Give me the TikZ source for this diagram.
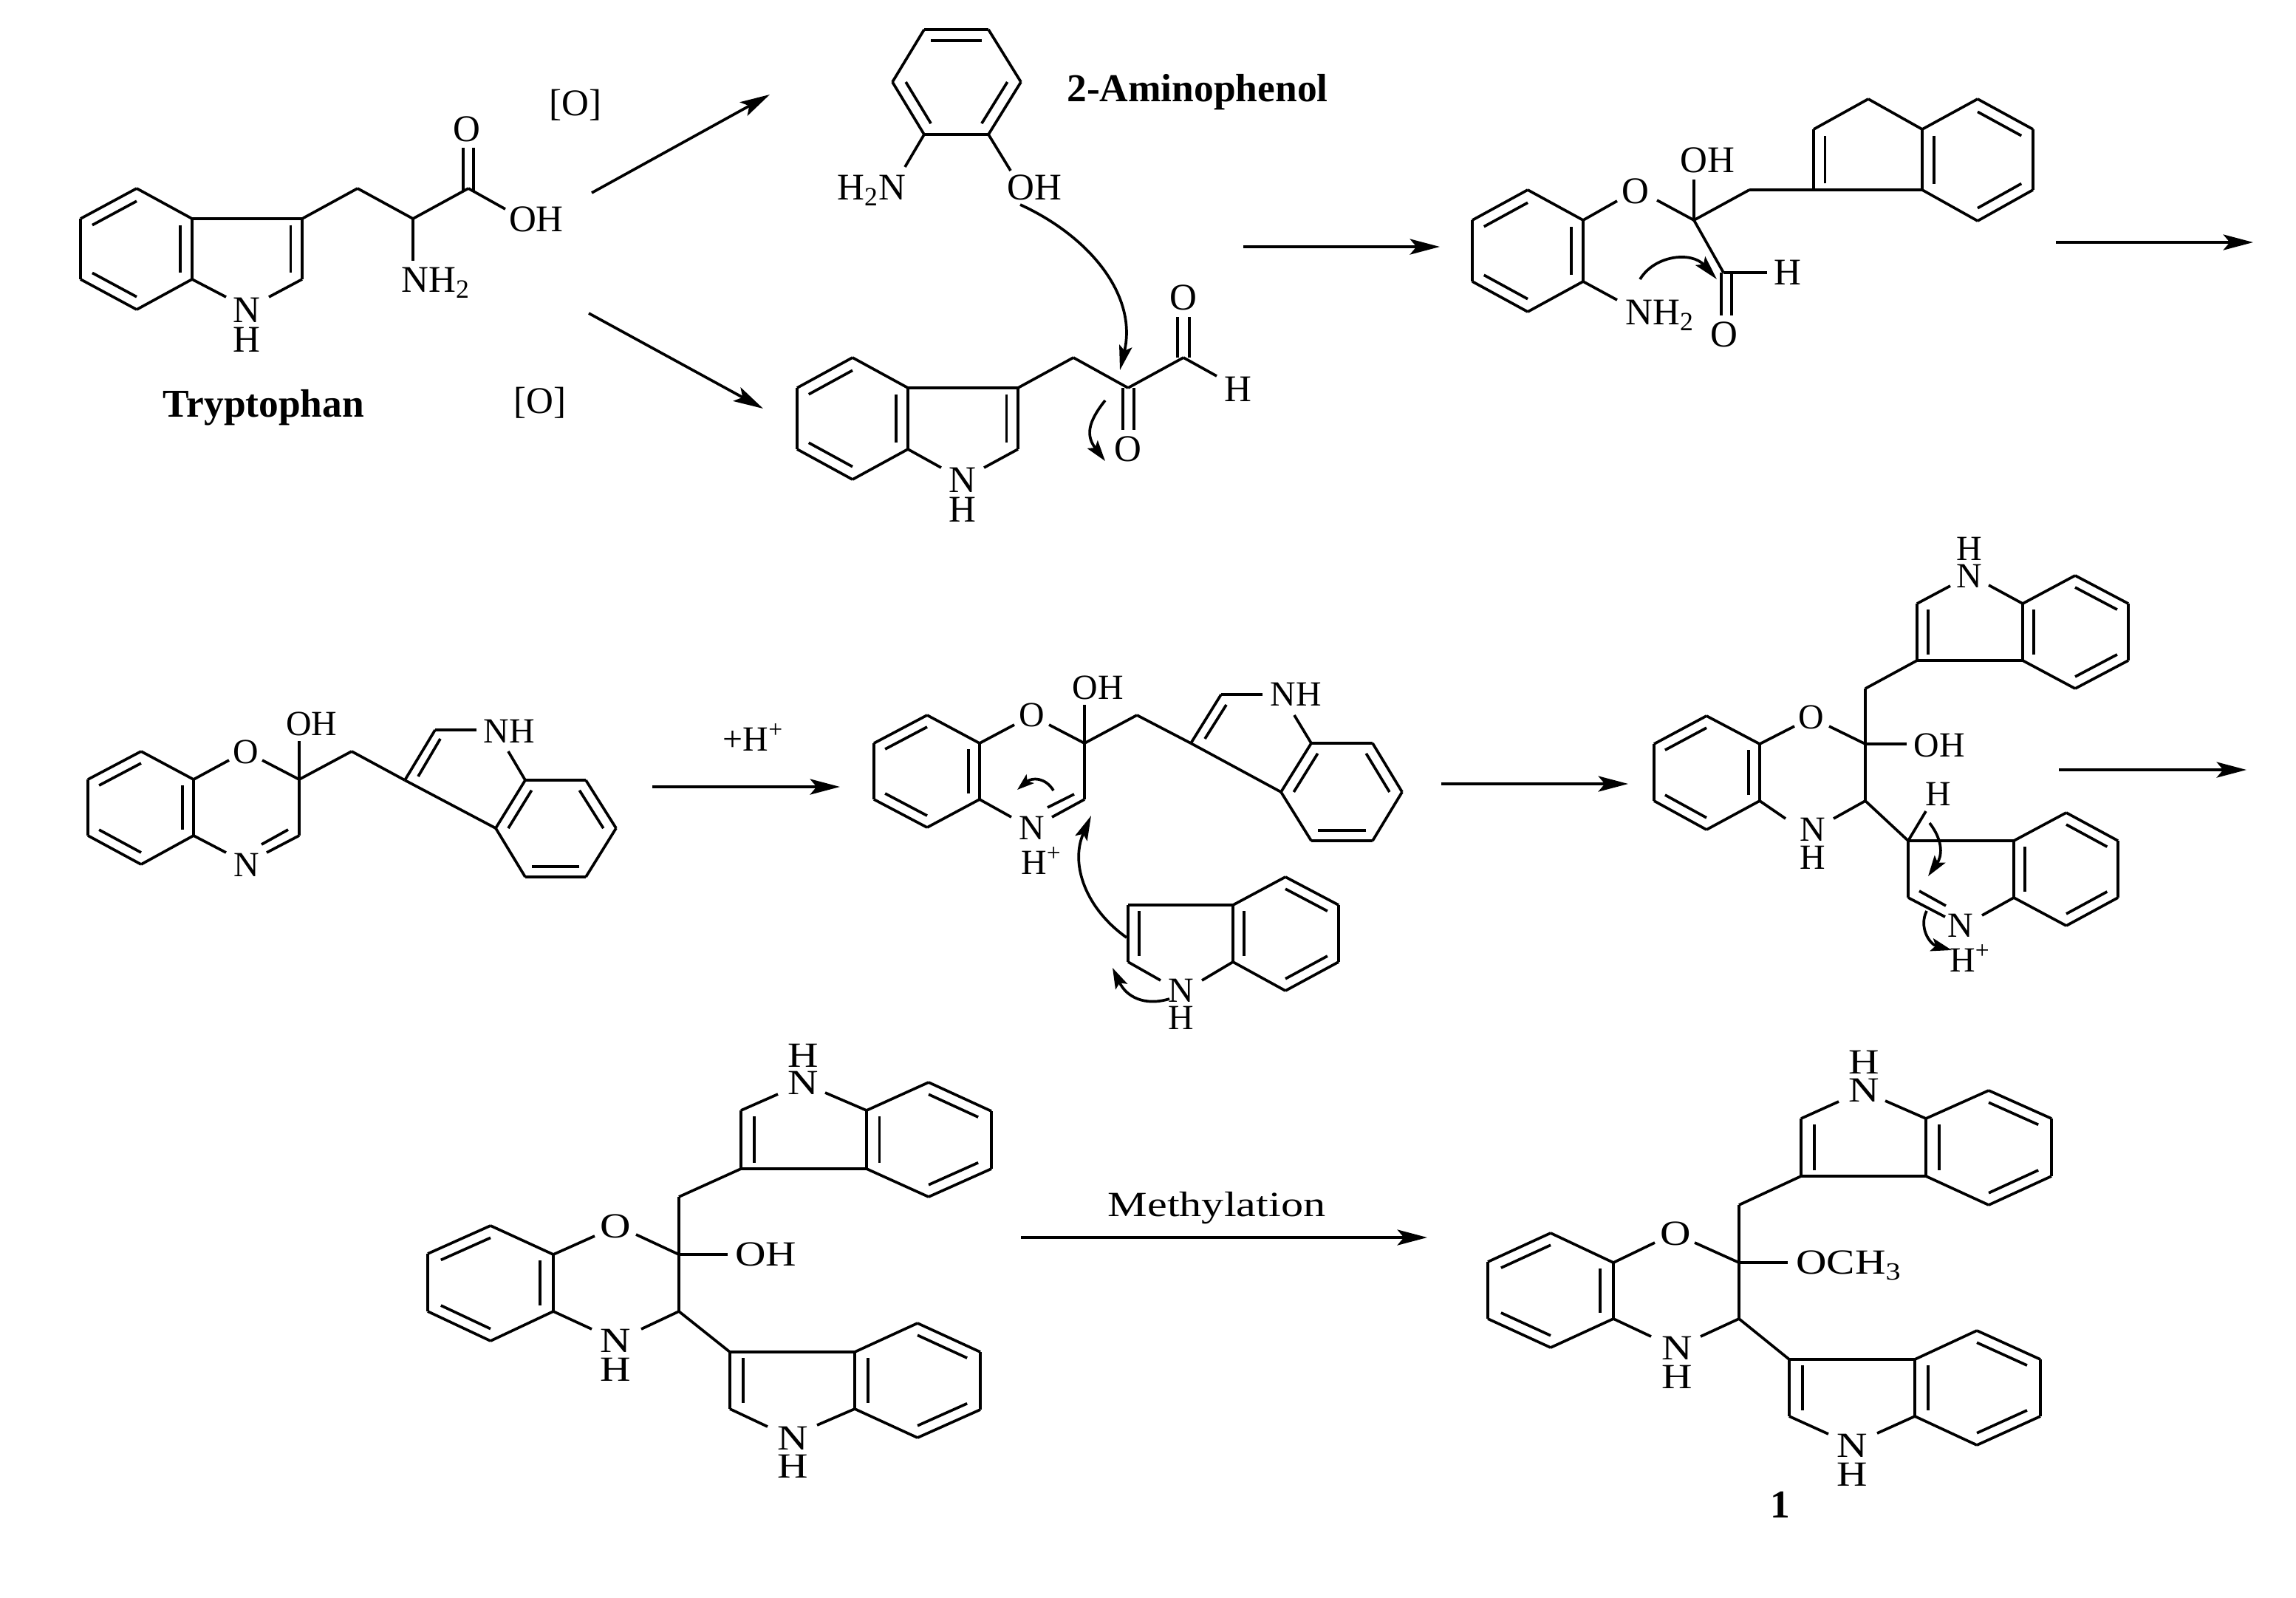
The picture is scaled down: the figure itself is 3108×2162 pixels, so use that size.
\documentclass[tikz,border=0pt]{standalone}
\usepackage{fontspec}
\setmainfont{Liberation Serif}
\usetikzlibrary{calc,arrows.meta}
\tikzset{
  bd/.style={line width=1.05pt,line join=miter,line cap=butt},
  lab/.style={inner sep=0pt,text height=9.6pt,text depth=0pt,font=\fontsize{14.5}{16}\selectfont},
  labb/.style={inner sep=0pt,text height=9pt,text depth=0pt,font=\fontsize{13.6}{15}\selectfont},
  bold lab/.style={inner sep=0pt,text height=10pt,text depth=0pt,font=\fontsize{15.2}{17}\selectfont\bfseries},
  rxn/.style={line width=1.05pt,-{Stealth[length=11.5pt,width=6pt,inset=2.5pt]}},
  curly/.style={line width=1.05pt,-{Stealth[length=9.5pt,width=5pt,inset=1.8pt]}},
  curlys/.style={line width=1.05pt,-{Stealth[length=8pt,width=5pt,inset=1.6pt]}},
  curlyt/.style={line width=1.05pt,-{Stealth[length=6.5pt,width=4.4pt,inset=1.4pt]}}
}
\newcommand{\pts}[1]{\foreach \n/\x/\y in {#1}{\coordinate (\n) at (\x,\y);}}
\newcommand{\bnd}[1]{\foreach \p/\q in {#1}{\draw[bd] (\p)--(\q);}}
\newcommand{\midpt}[3]{\coordinate (#1) at ($(#2)!.5!(#3)$);}
\newcommand{\dbl}[3]{\draw[bd] ($(#1)!.21!(#3)$)--($(#2)!.21!(#3)$);}
\newcommand{\wide}[1]{\scalebox{1.2}[1]{#1}}
\begin{document}
\begin{tikzpicture}[x=0.01cm,y=-0.01cm]
\useasboundingbox (0,0) rectangle (3108,2162);
% ---------- Tryptophan
\pts{t1/185/255,t2/109/296,t3/109/378,t4/185/419,t5/260/378,t6/260/296,t7/409/296,t8/409/378,tn1/306/402,tn2/364/402,t9/484/255,t10/559/296,t11/634/255,tnh/559/353,toh/684/283,tx1/627/258,ty1/627/200,tx2/641/258,ty2/641/200}
\bnd{t1/t2,t2/t3,t3/t4,t4/t5,t5/t6,t6/t1,t6/t7,t7/t8,t8/tn2,t5/tn1,t7/t9,t9/t10,t10/t11,t10/tnh,t11/toh,tx1/ty1,tx2/ty2}
\midpt{tc}{t1}{t4}\midpt{tp}{t7}{t5}
\dbl{t1}{t2}{tc}\dbl{t3}{t4}{tc}\dbl{t5}{t6}{tc}\dbl{t7}{t8}{tp}
\node[lab] (tN) at (334,420) {N};
\node[lab] (tH) at (334,460) {H};
\node[lab] (tNH2) at (590,379) {NH\textsubscript{2}};
\node[lab] (tO) at (632,175) {O};
\node[lab] (tOH) at (726,297) {OH};
\node[bold lab] (tname) at (357,547) {Tryptophan};
\node[lab] (ox1) at (779,140) {[O]};
\node[lab] (ox2) at (731,543) {[O]};
% ---------- arrows row 1
\pts{a1s/801/261,a1e/1042/128,a2s/797/424,a2e/1033/553,a3s/1683/334,a3e/1949/334,a4s/2783/328,a4e/3050/328}
\draw[rxn] (a1s)--(a1e);
\draw[rxn] (a2s)--(a2e);
\draw[rxn] (a3s)--(a3e);
\draw[rxn] (a4s)--(a4e);
% ---------- 2-Aminophenol
\pts{p1/1251/40,p2/1338/40,p3/1382/111,p4/1338/182,p5/1251/182,p6/1208/111,pn/1225/226,po/1368/231}
\bnd{p1/p2,p2/p3,p3/p4,p4/p5,p5/p6,p6/p1,p5/pn,p4/po}
\midpt{pc}{p1}{p4}
\dbl{p1}{p2}{pc}\dbl{p3}{p4}{pc}\dbl{p5}{p6}{pc}
\node[lab] (pNH2) at (1180,254) {H\textsubscript{2}N};
\node[lab] (pOH) at (1400,254) {OH};
\node[bold lab] (pname) at (1621,120) {2-Aminophenol};
% ---------- keto aldehyde
\pts{k1/1154/484,k2/1079/525,k3/1079/608,k4/1154/649,k5/1229/608,k6/1229/525,k7/1378/525,k8/1378/608,kn1/1274/633,kn2/1332/633,k9/1453/484,k10/1527/525,k11/1602/484,kh/1647/509,kxa/1520/525,kya/1520/582,kxb/1535/525,kyb/1535/582,kxc/1594/484,kyc/1594/429,kxd/1610/484,kyd/1610/429}
\bnd{k1/k2,k2/k3,k3/k4,k4/k5,k5/k6,k6/k1,k6/k7,k7/k8,k8/kn2,k5/kn1,k7/k9,k9/k10,k10/k11,k11/kh,kxa/kya,kxb/kyb,kxc/kyc,kxd/kyd}
\midpt{kc}{k1}{k4}\midpt{kp}{k7}{k5}
\dbl{k1}{k2}{kc}\dbl{k3}{k4}{kc}\dbl{k5}{k6}{kc}\dbl{k7}{k8}{kp}
\node[lab] (kN) at (1303,650) {N};
\node[lab] (kH) at (1303,690) {H};
\node[lab] (kO1) at (1527,608) {O};
\node[lab] (kO2) at (1602,403) {O};
\node[lab] (kH2) at (1676,527) {H};
\pts{ca1/1381/277,ca2/1516/501,cb1/1496/542,cb2/1496/624}
\draw[curly] (ca1) .. controls (1475,320) and (1540,400) .. (ca2);
\draw[curlys] (cb1) .. controls (1472,572) and (1470,590) .. (cb2);
% ---------- ether aldehyde
\pts{e1/2068/257,e2/1993/298,e3/1993/381,e4/2068/422,e5/2143/381,e6/2143/298,eo1/2189/272,eo2/2243/271,e7/2293/298,eoh/2293/243,e8/2368/257,e9/2455/257,e10/2455/175,e11/2529/134,e12/2602/175,e13/2602/257,e14/2677/134,e15/2752/175,e16/2752/257,e17/2677/299,en/2189/406,e18/2333/369,eh/2392/369,exa/2330/369,eya/2330/427,exb/2344/369,eyb/2344/427,efc/2529/216}
\bnd{e1/e2,e2/e3,e3/e4,e4/e5,e5/e6,e6/e1,e6/eo1,eo2/e7,e7/eoh,e7/e8,e8/e9,e9/e10,e10/e11,e11/e12,e12/e13,e13/e9,e12/e14,e14/e15,e15/e16,e16/e17,e17/e13,e5/en,e7/e18,e18/eh,exa/eya,exb/eyb}
\midpt{ec}{e1}{e4}\midpt{eb}{e14}{e17}
\dbl{e1}{e2}{ec}\dbl{e3}{e4}{ec}\dbl{e5}{e6}{ec}
\dbl{e9}{e10}{efc}\dbl{e12}{e13}{eb}\dbl{e14}{e15}{eb}\dbl{e16}{e17}{eb}
\node[lab] (eO) at (2214,259) {O};
\node[lab] (eOH) at (2311,217) {OH};
\node[lab] (eH) at (2420,369) {H};
\node[lab] (eO2) at (2334,453) {O};
\node[lab] (eNH2) at (2247,423) {NH\textsubscript{2}};
\pts{cc1/2220/378,cc2/2324/378}
\draw[curly] (cc1) .. controls (2240,345) and (2290,340) .. (cc2);
% ---------- benzoxazine (row 2 left)
\pts{b1/191/1017,b2/119/1055,b3/119/1131,b4/191/1170,b5/262/1131,b6/262/1055,bo1/310/1029,bo2/355/1029,b7/405/1055,boh/405/1003,b8/476/1017,b9/548/1056,b10/589/988,bnb/645/988,bnc/688/1017,b11/711/1056,b12/671/1121,b13/793/1056,b14/834/1121,b15/793/1187,b16/711/1187,b17/405/1131,bn1/306/1154,bn2/361/1154,bi1/390/1123,bi2/354/1143,bi3/596/1000,bi4/566/1051}
\bnd{b1/b2,b2/b3,b3/b4,b4/b5,b5/b6,b6/b1,b6/bo1,bo2/b7,b7/boh,b7/b8,b8/b9,b9/b10,b10/bnb,bnc/b11,b11/b12,b12/b9,b11/b13,b13/b14,b14/b15,b15/b16,b16/b12,b7/b17,b17/bn2,b5/bn1,bi1/bi2,bi3/bi4}
\midpt{bc}{b1}{b4}\midpt{bd2}{b13}{b16}
\dbl{b1}{b2}{bc}\dbl{b3}{b4}{bc}\dbl{b5}{b6}{bc}
\dbl{b11}{b12}{bd2}\dbl{b13}{b14}{bd2}\dbl{b15}{b16}{bd2}
\node[labb] (bO) at (333,1018) {O};
\node[labb] (bOH) at (422,980) {OH};
\node[labb] (bNH) at (689,990) {NH};
\node[labb] (bN) at (334,1171) {N};
\node[labb] (hp) at (1020,1001) {+H\textsuperscript{+}};
\pts{a5s/883/1065,a5e/1137/1065,a6s/1951/1061,a6e/2204/1061,a7s/2787/1042,a7e/3041/1042}
\draw[rxn] (a5s)--(a5e);
\draw[rxn] (a6s)--(a6e);
\draw[rxn] (a7s)--(a7e);
% ---------- cation (row 2 middle)
\pts{c1/1255/968,c2/1183/1006,c3/1183/1082,c4/1255/1120,c5/1326/1082,c6/1326/1006,co1/1373/981,co2/1420/981,c7/1468/1006,coh/1468/954,c8/1539/968,c9/1612/1006,c10/1653/940,cnb/1709/940,cnc/1752/968,c11/1775/1006,c12/1734/1072,c13/1858/1006,c14/1898/1072,c15/1858/1138,c16/1775/1138,c17/1468/1082,cn1/1369/1106,cn2/1424/1106,ci1/1454/1075,ci2/1418/1093,ci3/1660/954,ci4/1631/1000}
\bnd{c1/c2,c2/c3,c3/c4,c4/c5,c5/c6,c6/c1,c6/co1,co2/c7,c7/coh,c7/c8,c8/c9,c9/c10,c10/cnb,cnc/c11,c11/c12,c12/c9,c11/c13,c13/c14,c14/c15,c15/c16,c16/c12,c7/c17,c17/cn2,c5/cn1,ci1/ci2,ci3/ci4}
\midpt{cc}{c1}{c4}\midpt{cd}{c13}{c16}
\dbl{c1}{c2}{cc}\dbl{c3}{c4}{cc}\dbl{c5}{c6}{cc}
\dbl{c11}{c12}{cd}\dbl{c13}{c14}{cd}\dbl{c15}{c16}{cd}
\node[labb] (cO) at (1397,968) {O};
\node[labb] (cOH) at (1486,931) {OH};
\node[labb] (cNH) at (1754,940) {NH};
\node[labb] (cN) at (1397,1121) {N};
\node[labb] (cHp) at (1410,1168) {H\textsuperscript{+}};
\pts{cd1/1426/1070,cd2/1377/1069,ce1/1525/1269,ce2/1477/1104,cf1/1583/1352,cf2/1506/1310}
\draw[curlyt] (cd1) .. controls (1415,1052) and (1397,1052) .. (cd2);
\draw[curly] (ce1) .. controls (1470,1230) and (1448,1170) .. (ce2);
\draw[curlys] (cf1) .. controls (1550,1362) and (1525,1350) .. (cf2);
% ---------- free indole
\pts{i1/1527/1225,i2/1527/1302,in1/1571/1327,in2/1627/1327,i3/1669/1302,i4/1669/1225,i5/1740/1187,i6/1812/1225,i7/1812/1302,i8/1740/1341}
\bnd{i1/i2,i2/in1,in2/i3,i3/i4,i4/i1,i4/i5,i5/i6,i6/i7,i7/i8,i8/i3}
\midpt{ic}{i5}{i8}\midpt{ip}{i1}{i3}
\dbl{i1}{i2}{ip}\dbl{i3}{i4}{ic}\dbl{i5}{i6}{ic}\dbl{i7}{i8}{ic}
\node[labb] (iN) at (1599,1341) {N};
\node[labb] (iH) at (1599,1378) {H};
% ---------- bis-indolyl cation (row 2 right)
\pts{d1/2310/969,d2/2239/1007,d3/2239/1084,d4/2310/1123,d5/2382/1084,d6/2382/1007,do1/2429/983,do2/2476/983,d7/2525/1007,doh/2581/1007,d8/2525/1084,dn1/2417/1108,dn2/2482/1108,d9/2525/932,d10/2595/894,d11/2595/817,dn3/2640/793,dn4/2692/792,d12/2738/817,d13/2738/894,d14/2809/779,d15/2881/817,d16/2881/894,d17/2809/932,d18/2583/1138,d19/2726/1138,d20/2583/1215,dn5/2633/1241,dn6/2683/1239,d21/2726/1215,d22/2797/1100,d23/2867/1138,d24/2867/1215,d25/2797/1253,dh/2607/1098,di1/2598/1206,di2/2634/1226}
\bnd{d1/d2,d2/d3,d3/d4,d4/d5,d5/d6,d6/d1,d6/do1,do2/d7,d7/doh,d7/d8,d8/dn2,d5/dn1,d7/d9,d9/d10,d10/d11,d11/dn3,dn4/d12,d12/d13,d13/d10,d12/d14,d14/d15,d15/d16,d16/d17,d17/d13,d8/d18,d18/d19,d18/d20,d20/dn5,dn6/d21,d21/d19,d19/d22,d22/d23,d23/d24,d24/d25,d25/d21,d18/dh,di1/di2}
\midpt{dc}{d1}{d4}\midpt{dp}{d10}{d12}\midpt{dq}{d14}{d17}\midpt{dr}{d22}{d25}
\dbl{d1}{d2}{dc}\dbl{d3}{d4}{dc}\dbl{d5}{d6}{dc}
\dbl{d10}{d11}{dp}\dbl{d12}{d13}{dq}\dbl{d14}{d15}{dq}\dbl{d16}{d17}{dq}
\dbl{d19}{d21}{dr}\dbl{d22}{d23}{dr}\dbl{d24}{d25}{dr}
\node[labb] (dO) at (2452,971) {O};
\node[labb] (dOH) at (2625,1009) {OH};
\node[labb] (dN) at (2454,1123) {N};
\node[labb] (dH) at (2454,1161) {H};
\node[labb] (dN2) at (2666,780) {N};
\node[labb] (dH2) at (2666,743) {H};
\node[labb] (dH3) at (2624,1075) {H};
\node[labb] (dN3) at (2654,1253) {N};
\node[labb] (dHp) at (2667,1300) {H\textsuperscript{+}};
\pts{dg1/2612/1114,dg2/2610/1186,dk1/2608/1233,dk2/2642/1286}
\draw[curlys] (dg1) .. controls (2632,1140) and (2628,1160) .. (dg2);
\draw[curlys] (dk1) .. controls (2597,1255) and (2612,1278) .. (dk2);
% ---------- row 3 left
\pts{f1/664/1659,f2/579/1697,f3/579/1775,f4/664/1815,f5/749/1775,f6/749/1698,fo1/805/1673,fo2/861/1671,f7/919/1698,foh/985/1698,f8/919/1775,fn1/801/1799,fn2/868/1799,f9/919/1620,f10/1003/1582,f11/1003/1503,fn3/1053/1481,fn4/1117/1479,f12/1173/1503,f13/1173/1582,f14/1257/1465,f15/1342/1504,f16/1342/1582,f17/1257/1620,f18/988/1830,f19/1157/1830,f20/988/1907,fn5/1039/1931,fn6/1106/1929,f21/1157/1907,f22/1242/1791,f23/1327/1830,f24/1327/1908,f25/1242/1946}
\bnd{f1/f2,f2/f3,f3/f4,f4/f5,f5/f6,f6/f1,f6/fo1,fo2/f7,f7/foh,f7/f8,f8/fn2,f5/fn1,f7/f9,f9/f10,f10/f11,f11/fn3,fn4/f12,f12/f13,f13/f10,f12/f14,f14/f15,f15/f16,f16/f17,f17/f13,f8/f18,f18/f19,f18/f20,f20/fn5,fn6/f21,f21/f19,f19/f22,f22/f23,f23/f24,f24/f25,f25/f21}
\midpt{fc}{f1}{f4}\midpt{fp}{f10}{f12}\midpt{fq}{f14}{f17}\midpt{fr}{f22}{f25}\midpt{fs}{f18}{f21}
\dbl{f1}{f2}{fc}\dbl{f3}{f4}{fc}\dbl{f5}{f6}{fc}
\dbl{f10}{f11}{fp}\dbl{f12}{f13}{fq}\dbl{f14}{f15}{fq}\dbl{f16}{f17}{fq}
\dbl{f18}{f20}{fs}\dbl{f19}{f21}{fr}\dbl{f22}{f23}{fr}\dbl{f24}{f25}{fr}
\node[labb] (fO) at (833,1660) {\wide{O}};
\node[labb] (fOH) at (1037,1698) {\wide{OH}};
\node[labb] (fN) at (833,1815) {\wide{N}};
\node[labb] (fH) at (833,1854) {\wide{H}};
\node[labb] (fN2) at (1087,1466) {\wide{N}};
\node[labb] (fH2) at (1087,1429) {\wide{H}};
\node[labb] (fN3) at (1073,1947) {\wide{N}};
\node[labb] (fH3) at (1073,1985) {\wide{H}};
\pts{a8s/1382/1675,a8e/1932/1675}
\draw[rxn] (a8s)--(a8e);
\node[labb] (meth) at (1647,1631) {\scalebox{1.26}[1]{Methylation}};
% ---------- product 1
\pts{g1/2099/1669,g2/2014/1708,g3/2014/1785,g4/2099/1824,g5/2184/1785,g6/2184/1709,go1/2240/1682,go2/2294/1682,g7/2354/1709,goh/2420/1709,g8/2354/1785,gn1/2235/1809,gn2/2302/1809,g9/2354/1631,g10/2438/1592,g11/2438/1514,gn3/2489/1491,gn4/2552/1490,g12/2607/1514,g13/2607/1592,g14/2692/1476,g15/2777/1514,g16/2777/1592,g17/2692/1631,g18/2422/1840,g19/2592/1840,g20/2422/1917,gn5/2475/1941,gn6/2541/1940,g21/2592/1917,g22/2676/1801,g23/2762/1840,g24/2762/1917,g25/2676/1956}
\bnd{g1/g2,g2/g3,g3/g4,g4/g5,g5/g6,g6/g1,g6/go1,go2/g7,g7/goh,g7/g8,g8/gn2,g5/gn1,g7/g9,g9/g10,g10/g11,g11/gn3,gn4/g12,g12/g13,g13/g10,g12/g14,g14/g15,g15/g16,g16/g17,g17/g13,g8/g18,g18/g19,g18/g20,g20/gn5,gn6/g21,g21/g19,g19/g22,g22/g23,g23/g24,g24/g25,g25/g21}
\midpt{gc}{g1}{g4}\midpt{gp}{g10}{g12}\midpt{gq}{g14}{g17}\midpt{gr}{g22}{g25}\midpt{gs}{g18}{g21}
\dbl{g1}{g2}{gc}\dbl{g3}{g4}{gc}\dbl{g5}{g6}{gc}
\dbl{g10}{g11}{gp}\dbl{g12}{g13}{gq}\dbl{g14}{g15}{gq}\dbl{g16}{g17}{gq}
\dbl{g18}{g20}{gs}\dbl{g19}{g21}{gr}\dbl{g22}{g23}{gr}\dbl{g24}{g25}{gr}
\node[labb] (gO) at (2268,1670) {\wide{O}};
\node[labb] (gOMe) at (2503,1709) {\wide{OCH\textsubscript{3}}};
\node[labb] (gN) at (2270,1825) {\wide{N}};
\node[labb] (gH) at (2270,1864) {\wide{H}};
\node[labb] (gN2) at (2523,1476) {\wide{N}};
\node[labb] (gH2) at (2523,1438) {\wide{H}};
\node[labb] (gN3) at (2507,1957) {\wide{N}};
\node[labb] (gH3) at (2507,1996) {\wide{H}};
\node[bold lab] (gname) at (2410,2037) {1};
\end{tikzpicture}
\end{document}
